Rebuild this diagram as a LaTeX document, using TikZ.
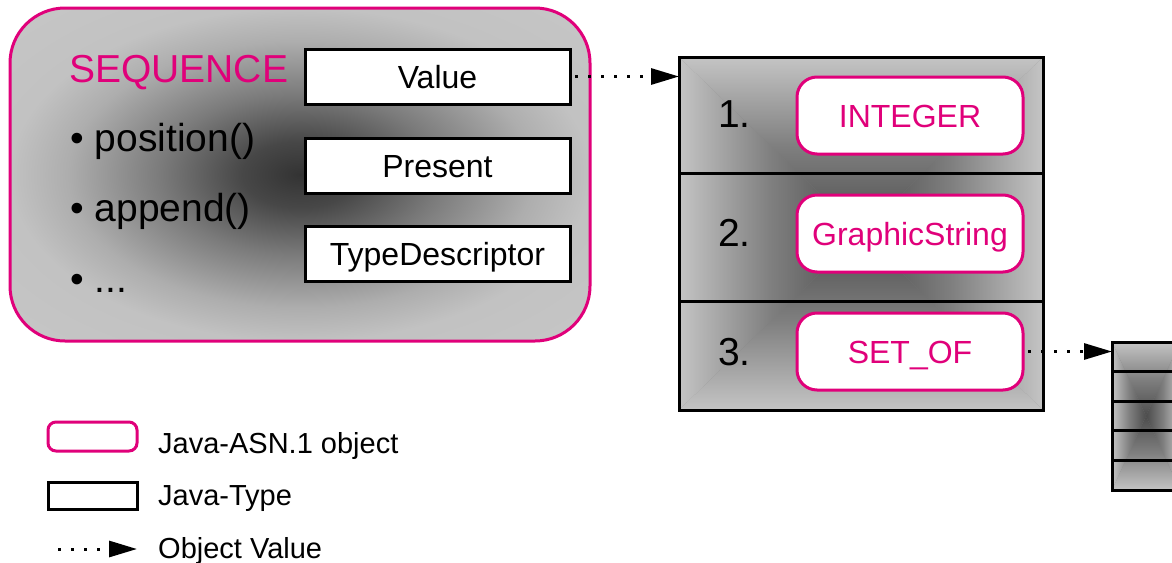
\documentclass[tikz,border=0pt]{standalone}
\usepackage{fontspec}
\setmainfont{Liberation Sans}
\usetikzlibrary{arrows.meta,calc}

\definecolor{tmag}{RGB}{224,0,122}
\definecolor{glowedge}{gray}{0.77}
\definecolor{glowmid}{gray}{0.50}
\definecolor{glowcore}{gray}{0.30}

% soft dark centre fading to light grey at the rim
\pgfdeclareradialshading{seqglow}{\pgfpoint{0bp}{0bp}}{%
  rgb(0bp)=(0.20,0.20,0.20); rgb(5bp)=(0.28,0.28,0.28);
  rgb(12bp)=(0.48,0.48,0.48); rgb(20bp)=(0.68,0.68,0.68);
  rgb(25bp)=(0.76,0.76,0.76); rgb(50bp)=(0.80,0.80,0.80)}

% rectangular "from centre" gradient: four triangles meeting in the middle
\newcommand\rectglow[2]{%
  \path (#1) coordinate (g-nw) (#2) coordinate (g-se);
  \coordinate (g-ne) at (g-nw -| g-se);
  \coordinate (g-sw) at (g-nw |- g-se);
  \coordinate (g-c) at ($(g-nw)!.5!(g-se)$);
  \fill[glowmid] (g-nw) rectangle (g-se);
  \shade[top color=glowedge, bottom color=glowcore, middle color=glowmid]
    (g-nw) -- (g-ne) -- (g-c) -- cycle;
  \shade[top color=glowcore, bottom color=glowedge, middle color=glowmid]
    (g-sw) -- (g-se) -- (g-c) -- cycle;
  \shade[left color=glowedge, right color=glowcore, middle color=glowmid]
    (g-nw) -- (g-sw) -- (g-c) -- cycle;
  \shade[left color=glowcore, right color=glowedge, middle color=glowmid]
    (g-ne) -- (g-se) -- (g-c) -- cycle;
}

\begin{document}
\begin{tikzpicture}[x=1pt, y=-1pt,
  seqbox/.style={shade, shading=seqglow, draw=tmag, line width=3pt,
    rounded corners=55pt, minimum width=580pt, minimum height=333pt},
  javatype/.style={draw, line width=3pt, fill=white, inner sep=0pt, outer sep=0pt,
    minimum width=265pt, minimum height=55pt,
    font=\fontsize{32}{32}\selectfont, text height=23pt, text depth=0pt},
  asnobj/.style={draw=tmag, line width=3pt, fill=white, rounded corners=20pt,
    text=tmag, inner sep=0pt, outer sep=0pt, minimum width=226pt, minimum height=77pt,
    font=\fontsize{32}{32}\selectfont, text height=23pt, text depth=0pt},
  stackrow/.style={draw, line width=3pt, minimum width=364pt, inner sep=0pt, outer sep=0pt},
  cellbox/.style={draw, line width=3pt, minimum width=68pt, minimum height=29.6pt,
    inner sep=0pt, outer sep=0pt},
  lefttxt/.style={anchor=base west, inner sep=0pt, font=\fontsize{39}{39}\selectfont},
  legtxt/.style={anchor=base west, inner sep=0pt, font=\fontsize{29}{29}\selectfont},
  objval/.style={line width=3pt, dash pattern=on 3pt off 10pt, dash phase=8pt,
    -{Triangle[length=28pt, width=16pt]}}
]
\path[use as bounding box] (0,0) rectangle (1172,562);
\clip (0,0) rectangle (1172,562);

% SEQUENCE object with its methods
\node[seqbox] (seq) at (300,174.5) {};
\node[lefttxt, text=tmag] (seqname) at (69,82) {SEQUENCE};
\node[lefttxt] (m1) at (70,151) {• position()};
\node[lefttxt] (m2) at (70,221) {• append()};
\node[lefttxt] (m3) at (70,292) {• ...};

% Java types held by the object
\node[javatype] (value) at (437.5,76.5) {Value};
\node[javatype] (present) at (437.5,165.5) {Present};
\node[javatype] (typedesc) at (437.5,254) {TypeDescriptor};

% value: list of components
\rectglow{679,57}{1043,410}
\node[stackrow, minimum height=116pt] (row1) at (861,115) {};
\node[stackrow, minimum height=128pt] (row2) at (861,237) {};
\node[stackrow, minimum height=109pt] (row3) at (861,355.5) {};
\node[lefttxt] (n1) at (718,127) {1.};
\node[lefttxt] (n2) at (718,246) {2.};
\node[lefttxt] (n3) at (718,365) {3.};
\node[asnobj] (int) at (910,115.5) {INTEGER};
\node[asnobj] (gstr) at (910,233.5) {GraphicString};
\node[asnobj] (setof) at (910,351.5) {SET\_OF};

% value of the SET_OF
\rectglow{1112,342}{1180,490}
\foreach \i in {1,...,5}
  \node[cellbox] (cell\i) at (1146,{342+29.6*\i-14.8}) {};

% object values
\draw[objval] (value.east) -- (value.east -| row1.west);
\draw[objval] (setof.east) -- (setof.east -| cell1.west);

% legend
\node[asnobj, minimum width=89pt, minimum height=29pt, rounded corners=8pt] (legobj) at (92.5,436.5) {};
\node[legtxt] (legobjtxt) at (158,453) {Java-ASN.1 object};
\node[javatype, minimum width=89pt, minimum height=27pt] (legtype) at (92.5,495.5) {};
\node[legtxt] (legtypetxt) at (158,505) {Java-Type};
\coordinate (legfrom) at (58,549);
\coordinate (legto) at (137,549);
\draw[objval, dash phase=0pt] (legfrom) -- (legto);
\node[legtxt] (legvaltxt) at (158,558) {Object Value};
\end{tikzpicture}
\end{document}
